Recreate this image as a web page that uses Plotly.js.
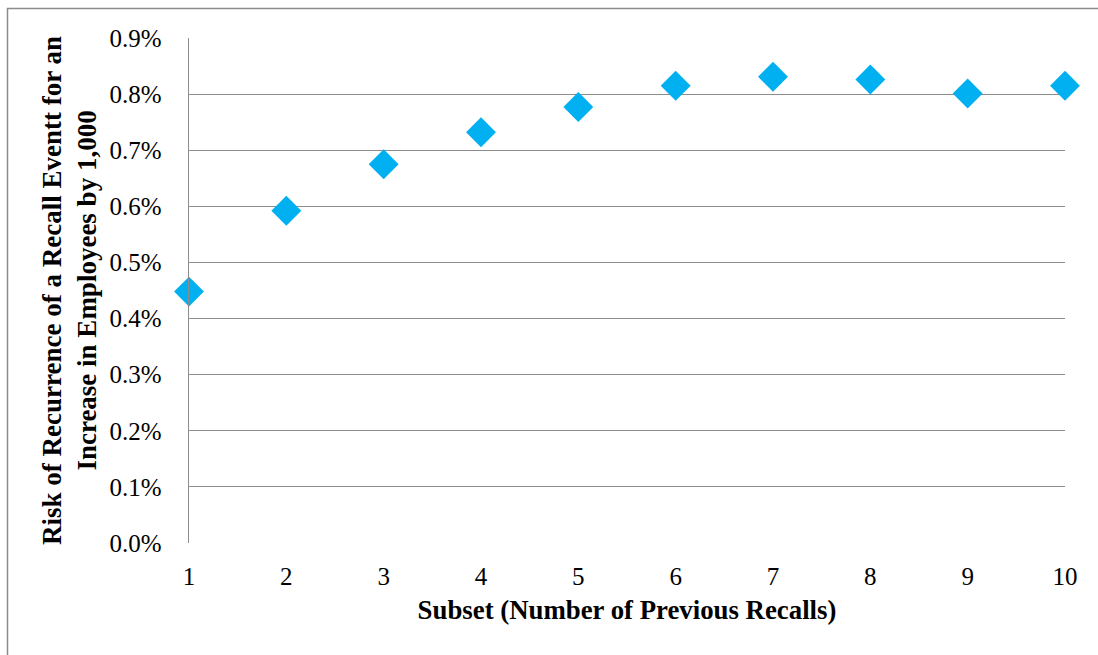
<!DOCTYPE html>
<html>
<head>
<meta charset="utf-8">
<script src="https://cdn.plot.ly/plotly-3.0.1.min.js"></script>
<style>
  html, body { margin: 0; padding: 0; background: #ffffff; }
  #chart { width: 1098px; height: 655px; }
</style>
</head>
<body>
<div id="chart"></div>
<script>
// Subsets by number of previous recalls
const subsets = [1, 2, 3, 4, 5, 6, 7, 8, 9, 10];
// Risk of recurrence (%) for +1,000 employees
const riskPct = [0.448, 0.592, 0.675, 0.732, 0.777, 0.815, 0.831, 0.826, 0.801, 0.815];
// Y tick values and labels
const yTickVals = [0, 0.1, 0.2, 0.3, 0.4, 0.5, 0.6, 0.7, 0.8, 0.9];
const yTickText = ["0.0%", "0.1%", "0.2%", "0.3%", "0.4%", "0.5%", "0.6%", "0.7%", "0.8%", "0.9%"];

const serif = "'Liberation Serif', 'Times New Roman', serif";

const trace = {
  type: "scatter",
  mode: "markers",
  x: subsets,
  y: riskPct,
  cliponaxis: false,
  marker: { symbol: "diamond", size: 23, color: "#00B0F0", line: { width: 0 } },
  hoverinfo: "x+y"
};

const layout = {
  width: 1098,
  height: 655,
  margin: { l: 189, r: 33, t: 38, b: 112 },
  paper_bgcolor: "#ffffff",
  plot_bgcolor: "#ffffff",
  showlegend: false,
  font: { family: serif, size: 25, color: "#000000" },
  xaxis: {
    range: [1, 10],
    tickvals: subsets,
    ticktext: subsets.map(String),
    showgrid: false,
    zeroline: false,
    showline: false,
    ticks: "",
    ticklabelstandoff: 16,
    tickfont: { family: serif, size: 25, color: "#000000" },
    title: {
      text: "Subset (Number of Previous Recalls)",
      font: { family: serif, size: 26.8, color: "#000000", weight: "bold" },
      standoff: 11
    },
    automargin: false
  },
  yaxis: {
    range: [0, 0.9],
    tickvals: yTickVals,
    ticktext: yTickText,
    showgrid: true,
    gridcolor: "#8c8c8c",
    gridwidth: 1.2,
    zeroline: false,
    showline: true,
    linecolor: "#8c8c8c",
    linewidth: 1.5,
    ticks: "",
    ticklabelstandoff: 21,
    tickfont: { family: serif, size: 25, color: "#000000" },
    title: {
      text: "Risk of Recurrence of a Recall Eventt for an<br>Increase in Employees by 1,000",
      font: { family: serif, size: 27, color: "#000000", weight: "bold" },
      standoff: 5
    },
    automargin: false
  },
  shapes: [
    {
      // outer chart frame (left and top edges visible)
      type: "path",
      xref: "paper",
      yref: "paper",
      path: "M -0.2072,-0.3 L -0.2072,1.0584 L 1.1,1.0584",
      line: { color: "#8c8c8c", width: 1.5 }
    }
  ]
};

Plotly.newPlot("chart", [trace], layout, { displayModeBar: false, staticPlot: true });
</script>
</body>
</html>
